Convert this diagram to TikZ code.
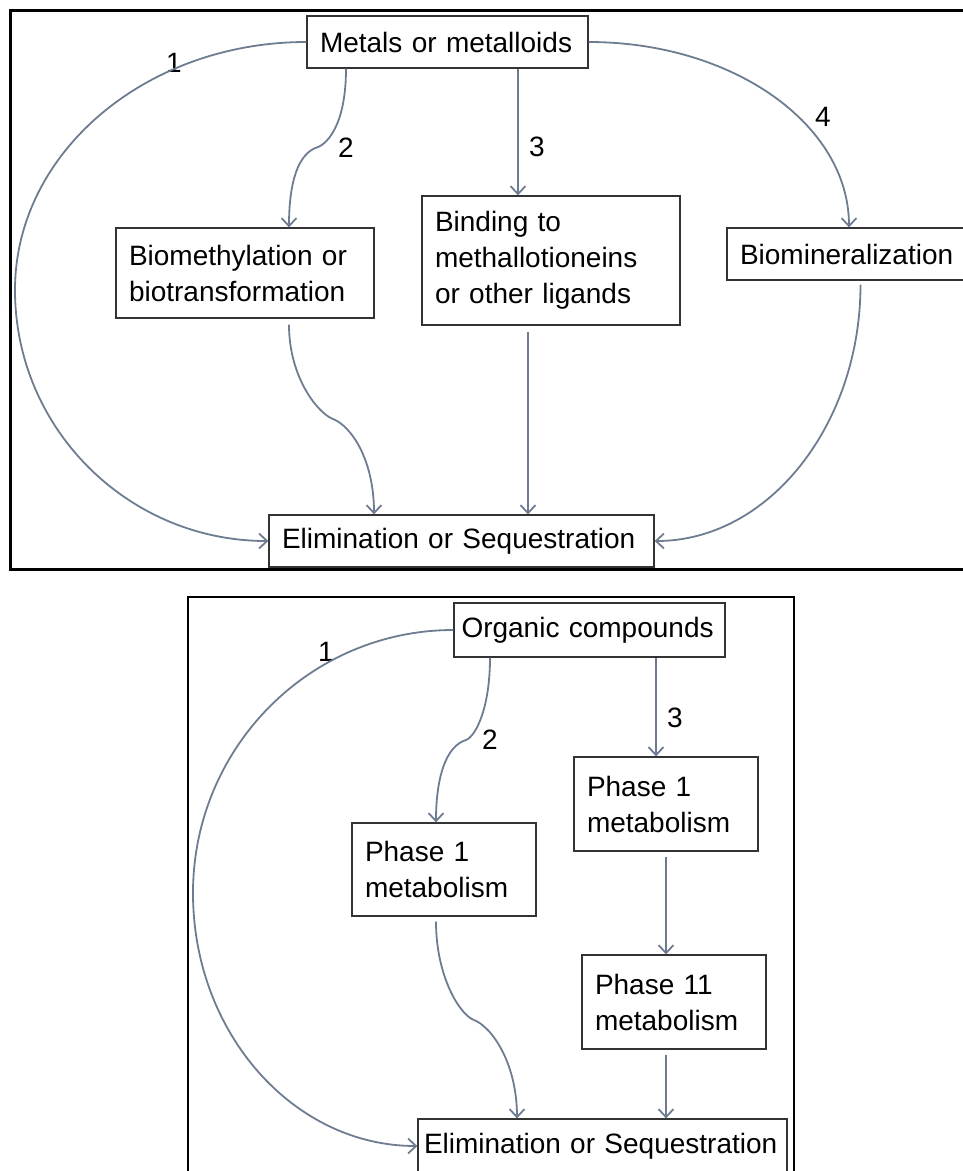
\documentclass[tikz,border=0pt]{standalone}
\usepackage{fontspec}
\setmainfont{Liberation Sans}
\usetikzlibrary{arrows.meta}
\definecolor{linkgray}{RGB}{110,124,145}
\begin{document}
\begin{tikzpicture}[x=1pt,y=-1pt,
    box/.style={draw=black!80,line width=1.3pt,align=left,inner xsep=13pt,inner ysep=0pt,font=\fontsize{28}{36}\selectfont},
    lnk/.style={draw=linkgray,line width=1.8pt,-{Straight Barb[length=8pt,width=15pt]}},
    num/.style={font=\fontsize{28}{34}\selectfont,inner sep=0pt},
    panel/.style={draw=black,line width=3pt}]
    \useasboundingbox (0,0) rectangle (962,1171);
    \draw[panel] (10,10) rectangle (975,569);
    \draw[panel,line width=2pt] (188,597) rectangle (794,1195);

    % metals
    \node[box,text width=255pt,minimum height=52pt] (metal) at (447.5,42) {Metals or metalloids};
    \node[box,text width=232pt,minimum height=90pt] (biom) at (245,273) {Biomethylation or\\biotransformation};
    \node[box,text width=232pt,minimum height=129pt] (bind) at (551,260.5) {Binding to\\methallotioneins\\or other ligands};
    \node[box,text width=215pt,minimum height=52pt] (bmin) at (847.5,254) {Biomineralization};
    \node[box,text width=359pt,minimum height=52pt] (elim1) at (461.5,541) {Elimination or Sequestration};

    \node[num] (n1a) at (174,63) {1};
    \node[num] (n2a) at (346,148) {2};
    \node[num] (n3a) at (537,147) {3};
    \node[num] (n4a) at (823,117) {4};

    \coordinate (c1) at (15,290);
    \coordinate (k1) at (318,147);
    \coordinate (k2) at (333,419);
    \draw[lnk] (metal.west) .. controls +(-161,0) and +(0,-137) .. (c1) .. controls +(0,139) and +(-140,0) .. (elim1.west);
    \draw[lnk] ([xshift=-101.5pt]metal.south) .. controls +(0,55) and +(10,-4) .. (k1) .. controls +(-20,6) and +(0,-45) .. ([xshift=44pt]biom.north);
    \draw[lnk] ([xshift=70.5pt]metal.south) -- ([xshift=70.5pt]metal.south |- bind.north);
    \draw[lnk] (metal.east) .. controls +(144,0) and +(0,-103) .. ([xshift=1.5pt]bmin.north);
    \draw[lnk,shorten <=6pt] ([xshift=44pt]biom.south) .. controls +(0,60) and +(-14,-5) .. (k2) .. controls +(18,7) and +(0,-55) .. ([xshift=-87.5pt]elim1.north);
    \draw[lnk,shorten <=6pt] ([xshift=-23pt]bind.south) -- ([xshift=-23pt]bind.south |- elim1.north);
    \draw[lnk,shorten <=4pt] ([xshift=13pt]bmin.south) .. controls +(0,144) and +(114,0) .. (elim1.east);

    % organics
    \node[box,text width=256pt,inner xsep=7.5pt,minimum height=54pt] (org) at (589.5,630) {Organic compounds};
    \node[box,text width=158pt,minimum height=93pt] (p1a) at (444,869.5) {Phase 1\\metabolism};
    \node[box,text width=158pt,minimum height=94pt] (p1b) at (666,804) {Phase 1\\metabolism};
    \node[box,text width=158pt,minimum height=94pt] (p2) at (674,1002) {Phase 11\\metabolism};
    \node[box,text width=357pt,inner xsep=6pt,minimum height=54pt] (elim2) at (602.5,1146) {Elimination or Sequestration};

    \node[num] (n1b) at (326,652) {1};
    \node[num] (n2b) at (490,740) {2};
    \node[num] (n3b) at (675,718) {3};

    \coordinate (c2) at (193,893);
    \coordinate (k3) at (466,740);
    \coordinate (k4) at (474,1020);
    \draw[lnk] (org.west) .. controls +(-144,0) and +(0,-145) .. (c2) .. controls +(0,140) and +(-124,0) .. (elim2.west);
    \draw[lnk] ([xshift=-99.5pt]org.south) .. controls +(0,50) and +(10,-4) .. (k3) .. controls +(-20,6) and +(0,-45) .. ([xshift=-8pt]p1a.north);
    \draw[lnk] ([xshift=66.5pt]org.south) -- ([xshift=66.5pt]org.south |- p1b.north);
    \draw[lnk,shorten <=5pt] (p1b.south) -- (p1b.south |- p2.north);
    \draw[lnk,shorten <=5pt] ([xshift=-8pt]p2.south) -- ([xshift=-8pt]p2.south |- elim2.north);
    \draw[lnk,shorten <=5pt] ([xshift=-8pt]p1a.south) .. controls +(0,60) and +(-14,-5) .. (k4) .. controls +(18,7) and +(0,-55) .. ([xshift=-85.5pt]elim2.north);
\end{tikzpicture}
\end{document}
